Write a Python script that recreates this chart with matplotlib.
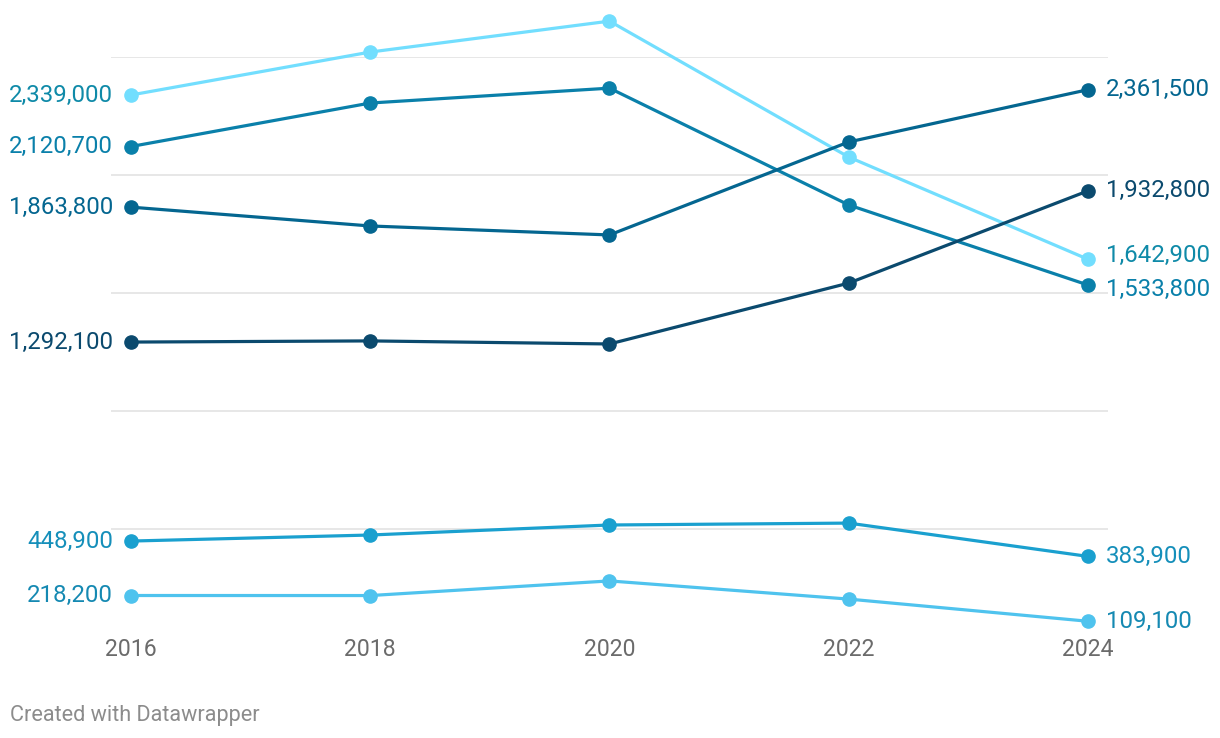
import matplotlib
matplotlib.use("Agg")
import matplotlib.pyplot as plt
from matplotlib import transforms

plt.rcParams['font.family'] = ['Roboto', 'DejaVu Sans']

years = [2016, 2018, 2020, 2022, 2024]
s_lightcyan = [2339000, 2521000, 2652000, 2076000, 1642900]
s_mid = [2120700, 2305000, 2368000, 1873000, 1533800]
s_teal = [1863800, 1784000, 1746000, 2140000, 2361500]
s_dark = [1292100, 1297000, 1284000, 1542000, 1932800]
s_blue = [448900, 474500, 517000, 525000, 383900]
s_lightblue = [218200, 218000, 280000, 203000, 109100]

series = [s_lightcyan, s_mid, s_teal, s_dark, s_blue, s_lightblue]
line_colors = ['#72defe', '#0a80aa', '#046690', '#0b4a6e', '#1aa0cf', '#4fc3ee']
label_colors = ['#0f8aa8', '#0a80aa', '#046690', '#0b4a6e', '#158fba', '#1589b2']
# pixel nudges for right-hand labels (to avoid overlap, as in the original)
right_nudge = [4, -4, 0, 0, 0, 0]
gridvals = [500000, 1000000, 1500000, 2000000, 2500000]

W, H = 1220, 738
fig = plt.figure(figsize=(W / 100, H / 100), dpi=100)
ax_l, ax_r = 111, 1108
ax_top, ax_bot = 57, 647
ax = fig.add_axes([ax_l / W, 1 - ax_bot / H, (ax_r - ax_l) / W, (ax_bot - ax_top) / H])
ppy = (1088 - 131) / 8.0
pad = 20 / ppy
ax.set_xlim(2016 - pad, 2024 + pad)
ax.set_ylim(0, 2500000)
ax.axis('off')

for g in gridvals:
    ax.axhline(g, color='#e3e3e3', lw=1.2, zorder=0)

for vals, lc, tc, nud in zip(series, line_colors, label_colors, right_nudge):
    ax.plot(years, vals, color=lc, lw=2.3, marker='o', ms=9.5, clip_on=False,
            solid_capstyle='round', zorder=3)
    tl = transforms.offset_copy(ax.transData, fig=fig, x=-18, y=0, units='dots')
    tr = transforms.offset_copy(ax.transData, fig=fig, x=18, y=nud, units='dots')
    ax.text(years[0], vals[0], f"{vals[0]:,}", transform=tl, ha='right', va='center',
            fontsize=17.3, color=tc, clip_on=False)
    ax.text(years[-1], vals[-1], f"{vals[-1]:,}", transform=tr, ha='left', va='center',
            fontsize=17.3, color=tc, clip_on=False)

ty = transforms.offset_copy(ax.transData, fig=fig, x=0, y=-3, units='dots')
for y in years:
    ax.text(y, 0, str(y), transform=ty, ha='center', va='center', fontsize=16.6,
            color='#6b6b6b', clip_on=False)

fig.text(10 / W, 1 - 716 / H, "Created with Datawrapper", ha='left', va='center',
         fontsize=15.6, color='#8c8c8c')

fig.savefig('out.png', dpi=100)
